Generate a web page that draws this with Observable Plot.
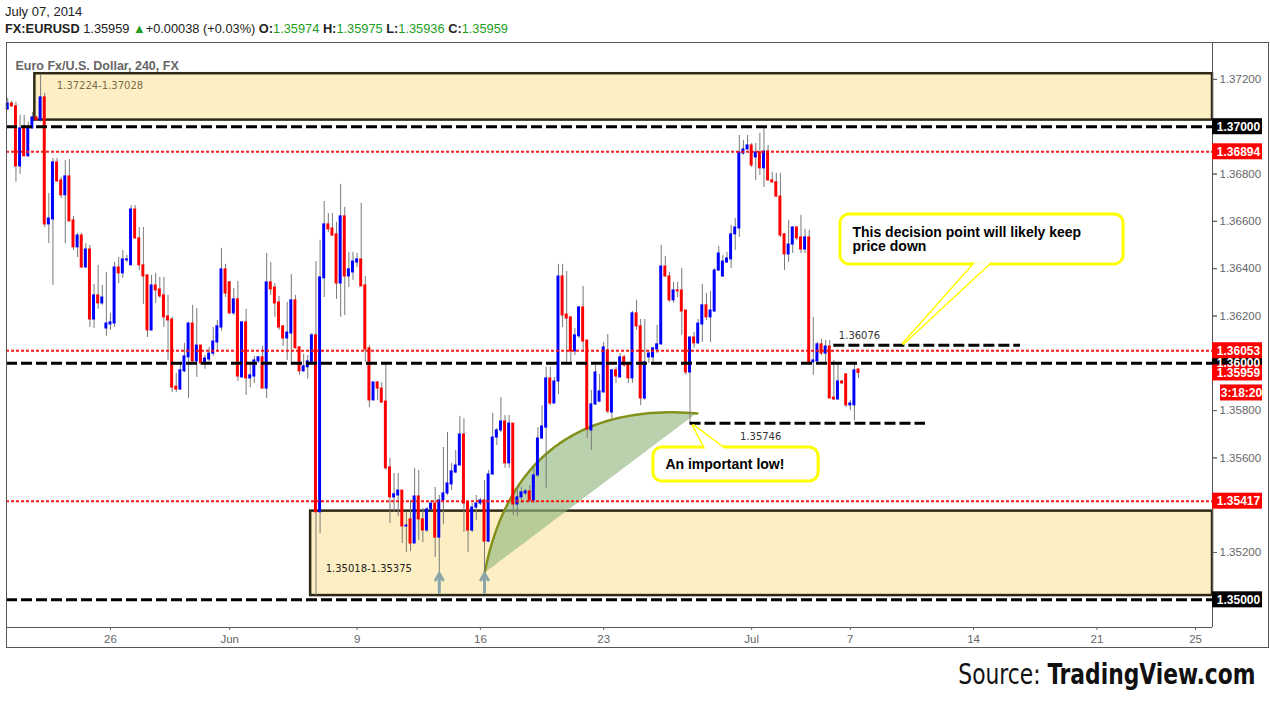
<!DOCTYPE html>
<html><head><meta charset="utf-8">
<script src="https://cdn.jsdelivr.net/npm/d3@7"></script>
<script src="https://cdn.jsdelivr.net/npm/@observablehq/plot@0.6"></script>
<style>
body{margin:0;background:#fff;width:1270px;height:704px;overflow:hidden;position:relative;font-family:"Liberation Sans",Arial,sans-serif;}
#l1{position:absolute;left:5px;top:4px;font-size:13px;color:#222;white-space:nowrap}
#l2{position:absolute;left:5px;top:21px;font-size:12.8px;color:#222;white-space:nowrap}
.g{color:#1e9e1e}
#chart{position:absolute;left:0;top:42px}
#frame{position:absolute;left:6px;top:42px;width:1263px;height:606px;border:1px solid #555;box-sizing:border-box;pointer-events:none}
#src{position:absolute;right:15px;top:658px;font-size:28px;color:#111;white-space:nowrap;font-family:"Liberation Sans Narrow","DejaVu Sans Condensed",sans-serif;transform:scaleX(0.865);transform-origin:right center}
</style></head>
<body>
<div id="l1">July 07, 2014</div>
<div id="l2"><b>FX:EURUSD</b> 1.35959 <span class="g">&#9650;</span>+0.00038 (+0.03%) <b>O:</b><span class="g">1.35974</span> <b>H:</b><span class="g">1.35975</span> <b>L:</b><span class="g">1.35936</span> <b>C:</b><span class="g">1.35959</span></div>
<div id="chart"></div>
<div id="frame"></div>
<div id="src">Source: <b>TradingView.com</b></div>
<script>
// ---- 240-minute EURUSD candles (bar index 0 .. 207) ----
const open = [1.37073,1.37098,1.37086,1.36832,1.36993,1.36875,1.36993,1.37039,1.37027,1.37124,
1.36587,1.36608,1.36849,1.36773,1.36710,1.36790,1.36604,1.36490,1.36540,1.36405,
1.36481,1.36185,1.36287,1.36253,1.36147,1.36164,1.36168,1.36405,1.36380,1.36435,
1.36414,1.36650,1.36528,1.36414,1.36371,1.36139,1.36329,1.36312,1.36287,1.36198,
1.36185,1.35901,1.35889,1.35966,1.36025,1.36168,1.36008,1.36075,1.35999,1.36016,
1.36041,1.36088,1.36151,1.36397,1.36342,1.36211,1.36270,1.35940,1.36173,1.35936,
1.35944,1.36008,1.36025,1.35893,1.36342,1.36320,1.36257,1.36156,1.36105,1.36126,
1.36266,1.36067,1.35966,1.35983,1.36004,1.36118,1.35370,1.36359,1.36587,1.36570,
1.36545,1.36337,1.36621,1.36367,1.36384,1.36426,1.36439,1.36329,1.36063,1.35843,
1.35919,1.35893,1.35838,1.35560,1.35433,1.35441,1.35462,1.35310,1.35340,1.35238,
1.35437,1.35340,1.35293,1.35382,1.35407,1.35263,1.35420,1.35450,1.35488,1.35538,
1.35568,1.35699,1.35411,1.35293,1.35390,1.35407,1.35420,1.35246,1.35530,1.35686,
1.35716,1.35754,1.35577,1.35745,1.35403,1.35433,1.35450,1.35458,1.35420,1.35526,
1.35682,1.35728,1.35936,1.35830,1.35923,1.36367,1.36206,1.36194,1.36050,1.36114,
1.36236,1.36096,1.35716,1.35826,1.35838,1.35877,1.36054,1.35792,1.35970,1.35940,
1.36025,1.35995,1.35936,1.36211,1.36156,1.35851,1.36025,1.36025,1.36058,1.36080,
1.36409,1.36367,1.36266,1.36308,1.36308,1.36223,1.35961,1.36109,1.36084,1.36164,
1.36245,1.36194,1.36219,1.36392,1.36367,1.36426,1.36439,1.36545,1.36570,1.36887,
1.36904,1.36921,1.36870,1.36891,1.36824,1.36895,1.36773,1.36765,1.36705,1.36545,
1.36460,1.36502,1.36574,1.36532,1.36481,1.36532,1.36004,1.36008,1.36080,1.36041,
1.36071,1.35855,1.35847,1.35923,1.35953,1.35822,1.35822,1.35974];
const high = [1.37120,1.37107,1.37103,1.37048,1.37048,1.37019,1.37061,1.37044,1.37221,1.37141,
1.36718,1.36866,1.36866,1.36786,1.36857,1.36862,1.36621,1.36549,1.36549,1.36506,
1.36498,1.36333,1.36414,1.36329,1.36384,1.36211,1.36426,1.36448,1.36477,1.36456,
1.36667,1.36667,1.36574,1.36574,1.36375,1.36371,1.36380,1.36363,1.36363,1.36287,
1.36194,1.35957,1.35999,1.36084,1.36173,1.36245,1.36232,1.36075,1.36033,1.36067,
1.36151,1.36181,1.36486,1.36418,1.36346,1.36316,1.36346,1.36173,1.36228,1.35999,
1.36029,1.36029,1.36071,1.36464,1.36426,1.36337,1.36283,1.36160,1.36257,1.36375,
1.36287,1.36071,1.36037,1.36033,1.36126,1.36430,1.36519,1.36684,1.36633,1.36633,
1.36596,1.36756,1.36659,1.36469,1.36469,1.36464,1.36676,1.36367,1.36075,1.35919,
1.35923,1.35919,1.36004,1.35598,1.35534,1.35534,1.35462,1.35369,1.35420,1.35556,
1.35547,1.35386,1.35390,1.35420,1.35475,1.35441,1.35644,1.35707,1.35577,1.35631,
1.35775,1.35766,1.35411,1.35407,1.35441,1.35428,1.35504,1.35547,1.35788,1.35724,
1.35855,1.35779,1.35779,1.35745,1.35475,1.35475,1.35467,1.35483,1.35556,1.35728,
1.35821,1.35983,1.35983,1.35940,1.36418,1.36418,1.36388,1.36194,1.36147,1.36240,
1.36325,1.36096,1.35885,1.35991,1.35953,1.36088,1.36122,1.35974,1.35983,1.36041,
1.36033,1.35995,1.36219,1.36266,1.36185,1.36185,1.36054,1.36067,1.36160,1.36498,
1.36452,1.36384,1.36342,1.36342,1.36401,1.36223,1.36109,1.36130,1.36185,1.36333,
1.36295,1.36304,1.36401,1.36494,1.36456,1.36469,1.36583,1.36612,1.36963,1.36942,
1.36963,1.36929,1.36929,1.36972,1.37001,1.36921,1.36807,1.36803,1.36803,1.36549,
1.36604,1.36578,1.36578,1.36625,1.36566,1.36562,1.36194,1.36088,1.36101,1.36096,
1.36096,1.36012,1.35999,1.35927,1.35957,1.35843,1.36004,1.35975];
const low = [1.37069,1.37082,1.36765,1.36798,1.36873,1.36870,1.36990,1.37022,1.37019,1.36574,
1.36506,1.36329,1.36765,1.36697,1.36506,1.36596,1.36477,1.36447,1.36401,1.36401,
1.36151,1.36147,1.36228,1.36245,1.36114,1.36139,1.36151,1.36337,1.36359,1.36426,
1.36414,1.36523,1.36392,1.36249,1.36109,1.36135,1.36253,1.36274,1.36151,1.36012,
1.35876,1.35876,1.35885,1.35961,1.35851,1.36004,1.35940,1.35991,1.35974,1.35999,
1.36029,1.36046,1.36135,1.36278,1.36206,1.36202,1.35923,1.35940,1.35864,1.35897,
1.35915,1.35999,1.35893,1.35851,1.36287,1.36194,1.36139,1.36071,1.36012,1.35991,
1.36063,1.35949,1.35961,1.35932,1.36004,1.35018,1.35280,1.36278,1.36553,1.36536,
1.36270,1.36194,1.36202,1.36320,1.36350,1.36405,1.36325,1.36004,1.35813,1.35843,
1.35843,1.35830,1.35547,1.35323,1.35369,1.35352,1.35238,1.35200,1.35204,1.35238,
1.35251,1.35242,1.35285,1.35378,1.35179,1.35111,1.35319,1.35441,1.35462,1.35534,
1.35568,1.35285,1.35200,1.35285,1.35335,1.35399,1.35111,1.35242,1.35526,1.35652,
1.35707,1.35556,1.35556,1.35356,1.35352,1.35407,1.35441,1.35411,1.35407,1.35517,
1.35677,1.35471,1.35821,1.35830,1.35868,1.36151,1.35999,1.36004,1.36033,1.36105,
1.36046,1.35682,1.35631,1.35821,1.35834,1.35872,1.35787,1.35762,1.35915,1.35940,
1.35983,1.35915,1.35915,1.36139,1.35821,1.35843,1.35999,1.36004,1.36041,1.36075,
1.36363,1.36257,1.36253,1.36278,1.36118,1.35949,1.35746,1.36063,1.36080,1.36088,
1.36181,1.36088,1.36215,1.36388,1.36363,1.36422,1.36401,1.36477,1.36532,1.36879,
1.36900,1.36828,1.36773,1.36794,1.36743,1.36769,1.36760,1.36701,1.36532,1.36392,
1.36426,1.36464,1.36519,1.36464,1.36464,1.36004,1.35949,1.36004,1.36033,1.36004,
1.35851,1.35843,1.35843,1.35910,1.35813,1.35800,1.35757,1.35936];
const close = [1.37098,1.37086,1.36832,1.36993,1.36875,1.36993,1.37039,1.37027,1.37124,1.36587,
1.36612,1.36849,1.36769,1.36710,1.36790,1.36600,1.36490,1.36540,1.36405,1.36481,
1.36185,1.36287,1.36253,1.36278,1.36168,1.36173,1.36405,1.36380,1.36439,1.36439,
1.36650,1.36528,1.36414,1.36367,1.36139,1.36329,1.36308,1.36283,1.36194,1.36181,
1.35897,1.35889,1.35970,1.36029,1.36168,1.36008,1.36075,1.35999,1.36020,1.36041,
1.36092,1.36156,1.36397,1.36295,1.36211,1.36270,1.35944,1.36173,1.35936,1.35949,
1.36012,1.36025,1.35893,1.36342,1.36312,1.36253,1.36151,1.36105,1.36130,1.36266,
1.36063,1.35966,1.35987,1.36008,1.36118,1.35370,1.36363,1.36587,1.36566,1.36540,
1.36337,1.36621,1.36367,1.36397,1.36430,1.36439,1.36325,1.36058,1.35843,1.35919,
1.35893,1.35834,1.35556,1.35433,1.35446,1.35462,1.35310,1.35314,1.35238,1.35437,
1.35340,1.35293,1.35382,1.35407,1.35263,1.35420,1.35450,1.35492,1.35543,1.35568,
1.35699,1.35407,1.35293,1.35390,1.35407,1.35420,1.35246,1.35530,1.35686,1.35716,
1.35754,1.35577,1.35745,1.35403,1.35433,1.35454,1.35458,1.35420,1.35526,1.35682,
1.35733,1.35936,1.35830,1.35923,1.36367,1.36202,1.36189,1.36050,1.36118,1.36236,
1.36092,1.35720,1.35826,1.35961,1.35881,1.36067,1.35796,1.35970,1.35944,1.36025,
1.35991,1.35936,1.36211,1.36156,1.35851,1.36004,1.36041,1.36063,1.36080,1.36409,
1.36367,1.36266,1.36308,1.36304,1.36219,1.35961,1.36109,1.36084,1.36168,1.36245,
1.36194,1.36223,1.36392,1.36464,1.36430,1.36443,1.36545,1.36574,1.36891,1.36904,
1.36921,1.36836,1.36891,1.36824,1.36895,1.36773,1.36765,1.36705,1.36540,1.36460,
1.36502,1.36574,1.36528,1.36481,1.36532,1.36004,1.36012,1.36080,1.36041,1.36071,
1.35851,1.35847,1.35923,1.35915,1.35822,1.35830,1.35970,1.35959];

// date ticks (bar index where each label falls) and labels
const tickBars   = [25, 54, 85, 115, 145, 181, 205, 235, 265, 289];
const tickLabels = ["26", "Jun", "9", "16", "23", "Jul", "7", "14", "21", "25"];
// price axis ticks (labels hidden where a price tag sits on top of them)
const priceTicks = [1.350, 1.352, 1.354, 1.356, 1.358, 1.360, 1.362, 1.364, 1.366, 1.368, 1.370, 1.372];
const hiddenTickLabels = [1.350, 1.354, 1.360, 1.370];

// supply / demand zones
const zoneLabels = ["1.37224-1.37028", "1.35018-1.35375"];
const zoneHigh   = [1.37224, 1.35375];
const zoneLow    = [1.37028, 1.35018];
const zoneStart  = [6.6, 73.7];

// horizontal levels
const roundLevels  = [1.37000, 1.36000, 1.35000];
const redLevels    = [1.36894, 1.36053, 1.35417];
const shortLevels  = [1.36076, 1.35746];
const shortFrom    = [201, 166];
const shortTo      = [246.4, 223.3];

// right-axis price tags
const tagPrices = [1.37000, 1.36894, 1.36000, 1.36053, 1.35959, 1.35417, 1.35000];
const tagColors = ["black", "red", "black", "red", "red", "red", "black"];
const countdown = "3:18:20";

// annotations
const arrowBars = [105, 116];
const domeEndBar = 167.8, domeEndPrice = 1.35788;
const noteTexts = ["This decision point will likely keep\nprice down", "An important low!"];
const noteX1 = [202.6, 157.1], noteX2 = [271.5, 197.3];
const noteY1 = [1.36418, 1.35500], noteY2 = [1.36629, 1.35644];
const noteTip = [[217.9, 1.36084], [166.8, 1.35737]];
const noteBase = [[[235.4, 1.36426], [239.1, 1.36426]], [[169.8, 1.35636], [174.6, 1.35636]]];

// ---------------------------------------------------------------
const xDomain = [-0.3, 293.13];
const yDomain = [1.34883, 1.37356];
const xMax = xDomain[1];
const fmt = d3.format(".5f");

const candles = open.map((o, i) => ({i, o, h: high[i], l: low[i], c: close[i], col: close[i] >= o ? "#0000ff" : "#ff0000"}));
const zones = zoneLabels.map((t, k) => ({t, hi: zoneHigh[k], lo: zoneLow[k], x1: zoneStart[k]}));
const shorts = shortLevels.map((p, k) => ({p, x1: shortFrom[k], x2: shortTo[k]}));
const tags = tagPrices.map((p, k) => ({p, bg: tagColors[k], t: fmt(p)}));
const labelTicks = priceTicks.filter(t => !hiddenTickLabels.some(h => Math.abs(h - t) < 1e-9));

// dome (annotation): cubic bezier from the low of bar 116 to the end point
const P0 = [arrowBars[1], low[arrowBars[1]]], P3 = [domeEndBar, domeEndPrice];
const dx = P3[0] - P0[0], dy = P3[1] - P0[1];
const P1 = [P0[0] + 0.12 * dx, P0[1] + 0.83 * dy], P2 = [P0[0] + 0.54 * dx, P0[1] + 1.05 * dy];
const dome = d3.range(0, 1.0001, 0.02).map(t => {
  const a = (1 - t) ** 3, b = 3 * (1 - t) ** 2 * t, c = 3 * (1 - t) * t * t, d = t ** 3;
  const x = a * P0[0] + b * P1[0] + c * P2[0] + d * P3[0];
  const y = a * P0[1] + b * P1[1] + c * P2[1] + d * P3[1];
  return {x, y, base: P0[1] + (x - P0[0]) / dx * dy};
});

const notes = noteTexts.map((t, k) => ({t, x1: noteX1[k], x2: noteX2[k], y1: noteY1[k], y2: noteY2[k]}));
const pointers = noteTexts.flatMap((t, k) => [
  {k, x: noteBase[k][0][0], y: noteBase[k][0][1]},
  {k, x: noteTip[k][0], y: noteTip[k][1]},
  {k, x: noteBase[k][1][0], y: noteBase[k][1][1]}
]);

const last = close.length - 1;

const chart = Plot.plot({
  width: 1270, height: 610,
  marginTop: 0, marginBottom: 25, marginLeft: 6, marginRight: 58,
  x: {domain: xDomain},
  y: {domain: yDomain},
  color: {type: "identity"},
  style: {fontFamily: "Liberation Sans, Arial, sans-serif", background: "transparent"},
  marks: [
    // zones
    Plot.rect(zones, {x1: "x1", x2: () => xMax, y1: "lo", y2: "hi", fill: "#fdefc3", stroke: "#2e2915", strokeWidth: 2.5}),
    Plot.text([zones[0]], {x: "x1", y: "hi", text: "t", dx: 22, dy: 12, textAnchor: "start", fontSize: 10, fill: "#786c4c", fontFamily: "DejaVu Sans"}),
    Plot.text([zones[1]], {x: "x1", y: "lo", text: "t", dx: 15, dy: -27, textAnchor: "start", fontSize: 10, fill: "#222", fontFamily: "DejaVu Sans"}),
    // dome
    Plot.areaY(dome, {x: "x", y1: "base", y2: "y", fill: "#93b97f", fillOpacity: 0.65}),
    Plot.line(dome, {x: "x", y: "y", stroke: "#83921c", strokeWidth: 2.5}),
    // candles
    Plot.ruleX(candles, {x: "i", y1: "l", y2: "h", stroke: "#7a7a7a", strokeWidth: 1}),
    Plot.rect(candles, {x1: d => d.i - 0.36, x2: d => d.i + 0.36, y1: "o", y2: "c", fill: "col", insetTop: -0.5, insetBottom: -0.5}),
    // levels
    Plot.ruleY(redLevels, {stroke: "#ff0000", strokeWidth: 2, strokeDasharray: "3,2", strokeOpacity: 0.9}),
    Plot.ruleY(roundLevels, {stroke: "#000", strokeWidth: 3, strokeDasharray: "11,4"}),
    Plot.ruleY(shorts, {y: "p", x1: "x1", x2: "x2", stroke: "#000", strokeWidth: 3, strokeDasharray: "11,4"}),
    Plot.text([shorts[0]], {x: "x1", y: "p", text: d => fmt(d.p), dx: 5, dy: -9, textAnchor: "start", fontSize: 10, fill: "#333", fontFamily: "DejaVu Sans"}),
    Plot.text([shorts[1]], {x: "x1", y: "p", text: d => fmt(d.p), dx: 50, dy: 13, textAnchor: "start", fontSize: 10, fill: "#333", fontFamily: "DejaVu Sans"}),
    // arrows to the two lows
    Plot.arrow(arrowBars, {x1: b => b, x2: b => b, y1: () => zoneLow[1], y2: b => low[b], insetStart: 3, insetEnd: 0, stroke: "#8aa6a8", strokeWidth: 3, headLength: 9}),
    // callouts
    Plot.line(pointers, {x: "x", y: "y", z: "k", fill: "#fff", stroke: "#ffff00", strokeWidth: 3, strokeLinejoin: "round"}),
    Plot.rect(notes, {x1: "x1", x2: "x2", y1: "y1", y2: "y2", fill: "#fff", stroke: "#ffff00", strokeWidth: 3, rx: 9}),
    Plot.line(pointers, {x: "x", y: "y", z: "k", fill: "#fff", stroke: "none"}),
    Plot.text(notes, {x: d => d.x1, y: d => (d.y1 + d.y2) / 2, text: "t", dx: 12, textAnchor: "start", lineAnchor: "middle", fontSize: 14, fontWeight: "bold", fill: "#000", lineHeight: 1.0}),
    // plot border lines (right and bottom)
    Plot.ruleX([xMax], {stroke: "#555", strokeWidth: 1}),
    Plot.ruleY([yDomain[0]], {stroke: "#555", strokeWidth: 1}),
    // axes
    Plot.axisY(priceTicks, {anchor: "right", text: null, tickSize: 4, color: "#666"}),
    Plot.axisY(labelTicks, {anchor: "right", tickFormat: fmt, tickSize: 4, tickPadding: 3, fontSize: 11.5, color: "#666"}),
    Plot.axisX(tickBars, {anchor: "bottom", tickFormat: b => tickLabels[tickBars.indexOf(b)], tickSize: 3, tickPadding: 4, fontSize: 11.5, color: "#666"}),
    // right-axis price tags
    Plot.rect(tags, {x1: () => xMax, x2: () => xMax, y1: "p", y2: "p", insetLeft: 0, insetRight: -50, insetTop: -8, insetBottom: -8, fill: "bg"}),
    Plot.text(tags, {x: () => xMax, y: "p", text: "t", dx: 26, fill: "#fff", fontSize: 12, fontWeight: "bold", textAnchor: "middle"}),
    Plot.rect([close[last]], {x1: () => xMax, x2: () => xMax, y1: d => d, y2: d => d, dy: 20, insetLeft: 8, insetRight: -50, insetTop: -8, insetBottom: -8, fill: "#ff0000"}),
    Plot.text([close[last]], {x: () => xMax, y: d => d, dy: 20, dx: 29, text: () => countdown, fill: "#fff", fontSize: 12, fontWeight: "bold", textAnchor: "middle"}),
    // chart title
    Plot.text(["Euro Fx/U.S. Dollar, 240, FX"], {frameAnchor: "top-left", dx: 9, dy: 19, text: d => d, textAnchor: "start", fontSize: 12.5, fontWeight: "bold", fill: "#666"})
  ]
});
document.getElementById("chart").appendChild(chart);
</script>
</body></html>
